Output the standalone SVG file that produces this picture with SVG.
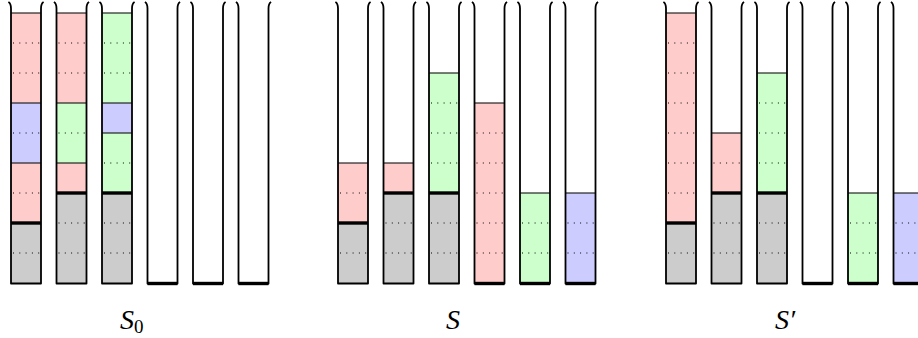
<svg xmlns="http://www.w3.org/2000/svg" xmlns:xlink="http://www.w3.org/1999/xlink" width="918" height="338" viewBox="0 0 918 338">
<style>
.wall{fill:none;stroke:#000;stroke-width:1.8;stroke-linejoin:round}
.r{fill:#ffcccc}.g{fill:#ccffcc}.b{fill:#ccccff}.k{fill:#cccccc}
.sep{stroke:#111;stroke-width:1.1}
.dot{stroke:#000;stroke-width:1;stroke-dasharray:1 5.3}
.base{stroke:#000;stroke-width:3.4}
.lbl{font-family:"Liberation Serif","DejaVu Serif",serif;font-style:italic;font-size:28px;fill:#000}
.sub{font-style:normal;font-size:19px}
</style>
<defs>
<line id="d" class="dot" x1="2" y1="0" x2="29" y2="0"/>
<line id="s" class="sep" x1="0" y1="0" x2="30" y2="0"/>
<line id="t" class="base" x1="0" y1="0" x2="30" y2="0"/>
<path id="w" class="wall" d="M-2.6 2 Q0 3.5 0 8.5 V283.5 H30 V8.5 Q30 3.5 32.6 2"/>
</defs>

<g id="S0-tube1" transform="translate(11,0)">
<rect class="k" x="0" y="223" width="30" height="60"/><rect class="r" x="0" y="163" width="30" height="60"/><rect class="b" x="0" y="103" width="30" height="60"/><rect class="r" x="0" y="13" width="30" height="90"/>
<use href="#s" y="163"/><use href="#s" y="103"/><use href="#s" y="13"/>
<use href="#d" y="253"/><use href="#d" y="193"/><use href="#d" y="133"/><use href="#d" y="73"/><use href="#d" y="43"/>
<use href="#t" y="223"/><use href="#w"/>
</g>
<g id="S0-tube2" transform="translate(56.5,0)">
<rect class="k" x="0" y="193" width="30" height="90"/><rect class="r" x="0" y="163" width="30" height="30"/><rect class="g" x="0" y="103" width="30" height="60"/><rect class="r" x="0" y="13" width="30" height="90"/>
<use href="#s" y="163"/><use href="#s" y="103"/><use href="#s" y="13"/>
<use href="#d" y="253"/><use href="#d" y="223"/><use href="#d" y="133"/><use href="#d" y="73"/><use href="#d" y="43"/>
<use href="#t" y="193"/><use href="#w"/>
</g>
<g id="S0-tube3" transform="translate(102,0)">
<rect class="k" x="0" y="193" width="30" height="90"/><rect class="g" x="0" y="133" width="30" height="60"/><rect class="b" x="0" y="103" width="30" height="30"/><rect class="g" x="0" y="13" width="30" height="90"/>
<use href="#s" y="133"/><use href="#s" y="103"/><use href="#s" y="13"/>
<use href="#d" y="253"/><use href="#d" y="223"/><use href="#d" y="163"/><use href="#d" y="73"/><use href="#d" y="43"/>
<use href="#t" y="193"/><use href="#w"/>
</g>
<g id="S0-tube4" transform="translate(147.5,0)"><use href="#t" y="283.5"/><use href="#w"/></g>
<g id="S0-tube5" transform="translate(193,0)"><use href="#t" y="283.5"/><use href="#w"/></g>
<g id="S0-tube6" transform="translate(238.5,0)"><use href="#t" y="283.5"/><use href="#w"/></g>

<g id="S-tube1" transform="translate(338,0)">
<rect class="k" x="0" y="223" width="30" height="60"/><rect class="r" x="0" y="163" width="30" height="60"/>
<use href="#s" y="163"/><use href="#d" y="253"/><use href="#d" y="193"/>
<use href="#t" y="223"/><use href="#w"/>
</g>
<g id="S-tube2" transform="translate(383.5,0)">
<rect class="k" x="0" y="193" width="30" height="90"/><rect class="r" x="0" y="163" width="30" height="30"/>
<use href="#s" y="163"/><use href="#d" y="253"/><use href="#d" y="223"/>
<use href="#t" y="193"/><use href="#w"/>
</g>
<g id="S-tube3" transform="translate(429,0)">
<rect class="k" x="0" y="193" width="30" height="90"/><rect class="g" x="0" y="73" width="30" height="120"/>
<use href="#s" y="73"/><use href="#d" y="253"/><use href="#d" y="223"/><use href="#d" y="163"/><use href="#d" y="133"/><use href="#d" y="103"/>
<use href="#t" y="193"/><use href="#w"/>
</g>
<g id="S-tube4" transform="translate(474.5,0)">
<rect class="r" x="0" y="103" width="30" height="180"/>
<use href="#s" y="103"/><use href="#d" y="253"/><use href="#d" y="223"/><use href="#d" y="193"/><use href="#d" y="163"/><use href="#d" y="133"/>
<use href="#t" y="283.5"/><use href="#w"/>
</g>
<g id="S-tube5" transform="translate(520,0)">
<rect class="g" x="0" y="193" width="30" height="90"/>
<use href="#s" y="193"/><use href="#d" y="253"/><use href="#d" y="223"/>
<use href="#t" y="283.5"/><use href="#w"/>
</g>
<g id="S-tube6" transform="translate(565.5,0)">
<rect class="b" x="0" y="193" width="30" height="90"/>
<use href="#s" y="193"/><use href="#d" y="253"/><use href="#d" y="223"/>
<use href="#t" y="283.5"/><use href="#w"/>
</g>

<g id="S1-tube1" transform="translate(666,0)">
<rect class="k" x="0" y="223" width="30" height="60"/><rect class="r" x="0" y="13" width="30" height="210"/>
<use href="#s" y="13"/><use href="#d" y="253"/><use href="#d" y="193"/><use href="#d" y="163"/><use href="#d" y="133"/><use href="#d" y="103"/><use href="#d" y="73"/><use href="#d" y="43"/>
<use href="#t" y="223"/><use href="#w"/>
</g>
<g id="S1-tube2" transform="translate(711.5,0)">
<rect class="k" x="0" y="193" width="30" height="90"/><rect class="r" x="0" y="133" width="30" height="60"/>
<use href="#s" y="133"/><use href="#d" y="253"/><use href="#d" y="223"/><use href="#d" y="163"/>
<use href="#t" y="193"/><use href="#w"/>
</g>
<g id="S1-tube3" transform="translate(757,0)">
<rect class="k" x="0" y="193" width="30" height="90"/><rect class="g" x="0" y="73" width="30" height="120"/>
<use href="#s" y="73"/><use href="#d" y="253"/><use href="#d" y="223"/><use href="#d" y="163"/><use href="#d" y="133"/><use href="#d" y="103"/>
<use href="#t" y="193"/><use href="#w"/>
</g>
<g id="S1-tube4" transform="translate(802.5,0)"><use href="#t" y="283.5"/><use href="#w"/></g>
<g id="S1-tube5" transform="translate(848,0)">
<rect class="g" x="0" y="193" width="30" height="90"/>
<use href="#s" y="193"/><use href="#d" y="253"/><use href="#d" y="223"/>
<use href="#t" y="283.5"/><use href="#w"/>
</g>
<g id="S1-tube6" transform="translate(893.5,0)">
<rect class="b" x="0" y="193" width="30" height="90"/>
<use href="#s" y="193"/><use href="#d" y="253"/><use href="#d" y="223"/>
<use href="#t" y="283.5"/><use href="#w"/>
</g>

<g id="labels">
<text class="lbl" x="120" y="329">S<tspan class="sub" dy="4">0</tspan></text>
<text class="lbl" x="446" y="329">S</text>
<text class="lbl" x="775" y="329">S′</text>
</g>
</svg>
